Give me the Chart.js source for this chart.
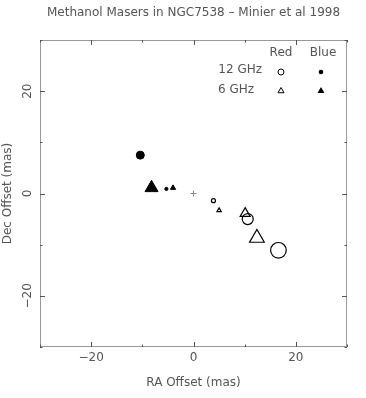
<!DOCTYPE html>
<html>
<head>
  <title>Methanol Masers in NGC7538</title>
  <script src="https://cdn.jsdelivr.net/npm/chart.js"></script>
  <style>body { margin: 0; background: #fff; }</style>
</head>
<body>
  <canvas id="maserChart" width="366" height="398"></canvas>

  <script>
    // offsets in mas
    const red12RA = [3.9, 10.6, 16.6];
    const red12Dec = [-1.4, -5.0, -11.1];
    const red6RA = [5.0, 10.1, 12.4];
    const red6Dec = [-3.3, -3.9, -8.7];
    const blue12RA = [-10.4, -5.3];
    const blue12Dec = [7.5, 0.9];
    const blue6RA = [-8.2, -4.0];
    const blue6Dec = [1.1, 1.1];
    const originRA = [0];
    const originDec = [0];

    // marker radius (px) for each spot
    const red12Size = [2, 5.5, 7.8];
    const red6Size = [2.5, 5.8, 8.5];
    const blue12Size = [4, 1.6];
    const blue6Size = [7.5, 3];

    const majorTicks = [-20, 0, 20];
    const minorTicks = [-30, -10, 10, 30];
    const axisMin = -30;
    const axisMax = 30;

    const FONT = 'DejaVu Sans';
    const TEXT = '#555';

    function pts(xs, ys) {
      return xs.map((v, i) => ({ x: v, y: ys[i] }));
    }
    function fmt(v) {
      return v < 0 ? '\u2212' + Math.abs(v) : String(v);
    }

    function tri(ctx, x, y, r, fill) {
      ctx.beginPath();
      for (let k = 0; k < 3; k++) {
        const a = k * 2 * Math.PI / 3;
        ctx.lineTo(x + Math.sin(a) * r, y - Math.cos(a) * r);
      }
      ctx.closePath();
      fill ? ctx.fill() : ctx.stroke();
    }

    // box, inward ticks on all sides, rotated y labels and the key
    const frame = {
      id: 'frame',
      afterDraw(chart) {
        const { ctx, chartArea: a, scales: { x, y } } = chart;
        ctx.save();
        ctx.strokeStyle = '#999';
        ctx.lineWidth = 1;
        ctx.strokeRect(a.left + 0.5, a.top + 0.5, a.right - a.left - 1, a.bottom - a.top - 1);

        ctx.strokeStyle = '#555';
        const mark = (vals, len) => {
          vals.forEach(v => {
            const px = Math.round(x.getPixelForValue(v)) + 0.5;
            const py = Math.round(y.getPixelForValue(v)) + 0.5;
            ctx.beginPath();
            ctx.moveTo(px, a.bottom); ctx.lineTo(px, a.bottom - len);
            ctx.moveTo(px, a.top); ctx.lineTo(px, a.top + len);
            ctx.moveTo(a.left, py); ctx.lineTo(a.left + len, py);
            ctx.moveTo(a.right, py); ctx.lineTo(a.right - len, py);
            ctx.stroke();
          });
        };
        mark(majorTicks, 5);
        mark(minorTicks, 2.5);

        ctx.fillStyle = TEXT;
        ctx.font = '12px "' + FONT + '"';
        ctx.textAlign = 'center';
        ctx.textBaseline = 'middle';
        majorTicks.forEach(v => {
          ctx.save();
          ctx.translate(28, y.getPixelForValue(v));
          ctx.rotate(-Math.PI / 2);
          ctx.fillText(fmt(v), 0, 0);
          ctx.restore();
        });

        // key
        ctx.fillText('Red', 281, 53);
        ctx.fillText('Blue', 323, 53);
        ctx.textAlign = 'right';
        ctx.fillText('12 GHz', 262, 70);
        ctx.fillText('6 GHz', 254, 90);
        ctx.strokeStyle = '#000';
        ctx.fillStyle = '#000';
        ctx.beginPath(); ctx.arc(281, 72, 3, 0, 2 * Math.PI); ctx.stroke();
        ctx.beginPath(); ctx.arc(321, 72, 2.3, 0, 2 * Math.PI); ctx.fill();
        tri(ctx, 281, 91, 3.5, false);
        tri(ctx, 321, 91, 4, true);
        ctx.restore();
      }
    };

    const ctx = document.getElementById('maserChart').getContext('2d');
    new Chart(ctx, {
      type: 'scatter',
      data: {
        datasets: [
          { label: 'Red 12 GHz', data: pts(red12RA, red12Dec), pointStyle: 'circle', pointRadius: red12Size,
            backgroundColor: 'rgba(0,0,0,0)', borderColor: '#000', borderWidth: 1.2 },
          { label: 'Red 6 GHz', data: pts(red6RA, red6Dec), pointStyle: 'triangle', pointRadius: red6Size,
            backgroundColor: 'rgba(0,0,0,0)', borderColor: '#000', borderWidth: 1.2 },
          { label: 'Blue 12 GHz', data: pts(blue12RA, blue12Dec), pointStyle: 'circle', pointRadius: blue12Size,
            backgroundColor: '#000', borderColor: '#000', borderWidth: 1 },
          { label: 'Blue 6 GHz', data: pts(blue6RA, blue6Dec), pointStyle: 'triangle', pointRadius: blue6Size,
            backgroundColor: '#000', borderColor: '#000', borderWidth: 1 },
          { label: 'Origin', data: pts(originRA, originDec), pointStyle: 'cross', pointRadius: 3,
            borderColor: '#888', borderWidth: 1 }
        ]
      },
      options: {
        responsive: false,
        animation: false,
        layout: { padding: { right: 19 } },
        plugins: {
          legend: { display: false },
          tooltip: { enabled: false },
          title: {
            display: true,
            text: 'Methanol Masers in NGC7538 \u2013 Minier et al 1998',
            fullSize: false,
            color: TEXT,
            font: { family: FONT, size: 12, weight: 'normal' },
            padding: { top: 6, bottom: 19.6 }
          }
        },
        scales: {
          x: {
            type: 'linear', min: axisMin, max: axisMax,
            grid: { display: false, drawTicks: false },
            border: { display: false },
            afterBuildTicks: s => { s.ticks = majorTicks.map(v => ({ value: v })); },
            afterFit: s => { s.height = 51; },
            ticks: { color: TEXT, padding: 4, font: { family: FONT, size: 12 }, callback: v => fmt(v) },
            title: { display: true, text: 'RA Offset (mas)', color: TEXT,
              font: { family: FONT, size: 12 }, padding: { bottom: 8 } }
          },
          y: {
            type: 'linear', min: axisMin, max: axisMax,
            grid: { display: false, drawTicks: false },
            border: { display: false },
            afterBuildTicks: s => { s.ticks = majorTicks.map(v => ({ value: v })); },
            afterFit: s => { s.width = 40; },
            ticks: { display: false },
            title: { display: true, text: 'Dec Offset (mas)', color: TEXT,
              font: { family: FONT, size: 12 }, padding: { top: 1 } }
          }
        }
      },
      plugins: [frame]
    });
  </script>
</body>
</html>
